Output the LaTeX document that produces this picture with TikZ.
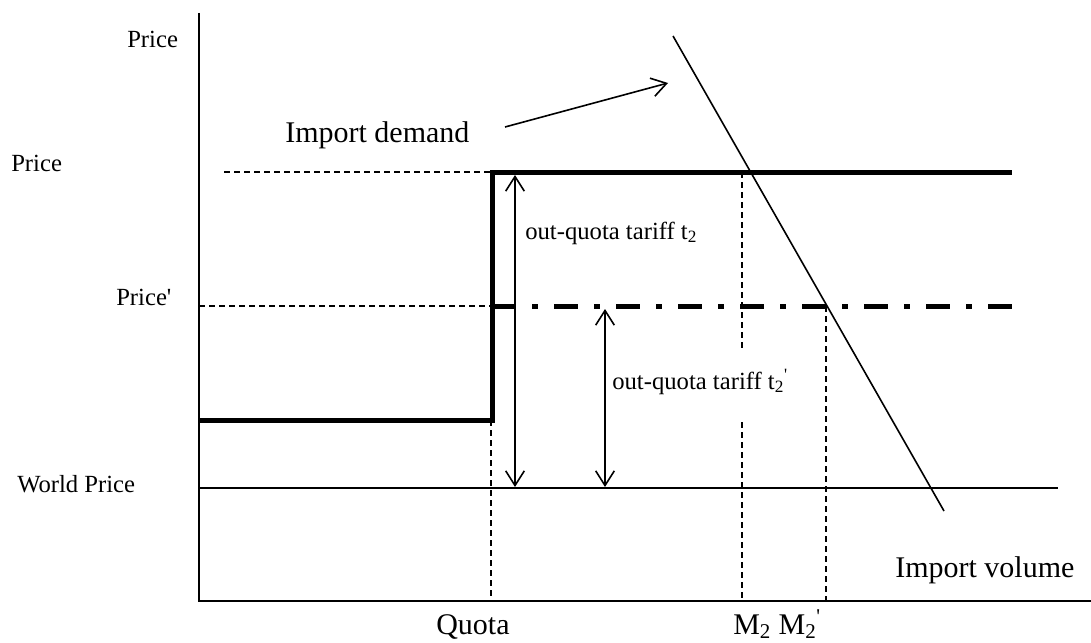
\documentclass[tikz,border=0pt]{standalone}
\usepackage{fontspec}
\setmainfont{Liberation Serif}
\usetikzlibrary{arrows.meta}
\begin{document}
\begin{tikzpicture}[x=0.75pt,y=-0.75pt,
  lbl/.style={font=\fontsize{18.5}{22}\selectfont, inner sep=0pt, anchor=base west},
  biglbl/.style={font=\fontsize{22.5}{27}\selectfont, inner sep=0pt, anchor=base west},
  axis/.style={line width=1.5pt},
  fine/.style={line width=1.2pt},
  guide/.style={line width=1.1pt, dash pattern=on 4.5pt off 3pt},
  schedule/.style={line width=3.75pt, line join=miter},
  dashdot/.style={line width=3.75pt, dash pattern=on 18pt off 12pt on 4.5pt off 12pt},
  barb/.style={-{Straight Barb[length=11pt,width=14pt]}},
  dbarb/.style={{Straight Barb[length=11pt,width=14pt]}-{Straight Barb[length=11pt,width=14pt]}},
]
\useasboundingbox (0,0) rectangle (1091,642);

% axes
\coordinate (O) at (199,601);
\coordinate (ytop) at (199,13);
\coordinate (xend) at (1091,601);
\draw[axis] (ytop) -- (O) -- (xend);

% world price
\coordinate (wpL) at (199,488);
\coordinate (wpR) at (1058,488);
\draw[axis] (wpL) -- (wpR);

% tariff-rate quota schedule
\coordinate (lowL) at (199,420);
\coordinate (step) at (492,420);
\coordinate (stepTop) at (492,172);
\coordinate (highR) at (1012,172);
\coordinate (midL) at (492,306);
\coordinate (midR) at (1012,306);
\draw[schedule] (lowL) -- (step) -- (stepTop) -- (highR);
\draw[dashdot] (midL) -- (midR);

% guide lines
\coordinate (gPriceL) at (224,172);
\coordinate (gPrimeL) at (199,306);
\coordinate (qTop) at (491,420);
\coordinate (qBot) at (491,601);
\coordinate (m2Top) at (742,172);
\coordinate (m2GapA) at (742,350);
\coordinate (m2GapB) at (742,422);
\coordinate (m2Bot) at (742,601);
\coordinate (m2pTop) at (826,306);
\coordinate (m2pBot) at (826,601);
\draw[guide] (gPriceL) -- (stepTop);
\draw[guide] (gPrimeL) -- (midL);
\draw[guide] (qTop) -- (qBot);
\draw[guide] (m2Top) -- (m2GapA);
\draw[guide] (m2GapB) -- (m2Bot);
\draw[guide] (m2pTop) -- (m2pBot);

% import demand curve
\coordinate (dTop) at (673,36);
\coordinate (dBot) at (944,511);
\draw[fine] (dTop) -- (dBot);

% tariff spans
\coordinate (t1Top) at (515,175);
\coordinate (t1Bot) at (515,487);
\coordinate (t2Top) at (605,309);
\coordinate (t2Bot) at (605,487);
\draw[fine, dbarb] (t1Top) -- (t1Bot);
\draw[fine, dbarb] (t2Top) -- (t2Bot);

% labels
\node[lbl] (pTop) at (127,48) {Price};
\node[lbl] (pHigh) at (11,171) {Price};
\node[lbl] (pPrime) at (116,305) {Price\textquotesingle};
\node[lbl] (pWorld) at (17,492) {World Price};
\node[lbl] (tOut) at (525,239) {out-quota tariff t\textsubscript{2}};
\node[lbl] (tOutP) at (612,389) {out-quota tariff t\textsubscript{2}\textsuperscript{\textquotesingle}};
\node[biglbl] (demand) at (285,142) {Import demand};
\node[biglbl] (volume) at (895,577) {Import volume};
\node[biglbl] (quota) at (436,634) {Quota};
\node[biglbl] (mtwo) at (733,634) {M\textsubscript{2} M\textsubscript{2}\textsuperscript{\textquotesingle}};

% pointer to the demand curve
\coordinate (ptrEnd) at (668,83);
\draw[fine, barb] (505,127) coordinate (ptrStart) -- (ptrEnd);
\end{tikzpicture}
\end{document}
